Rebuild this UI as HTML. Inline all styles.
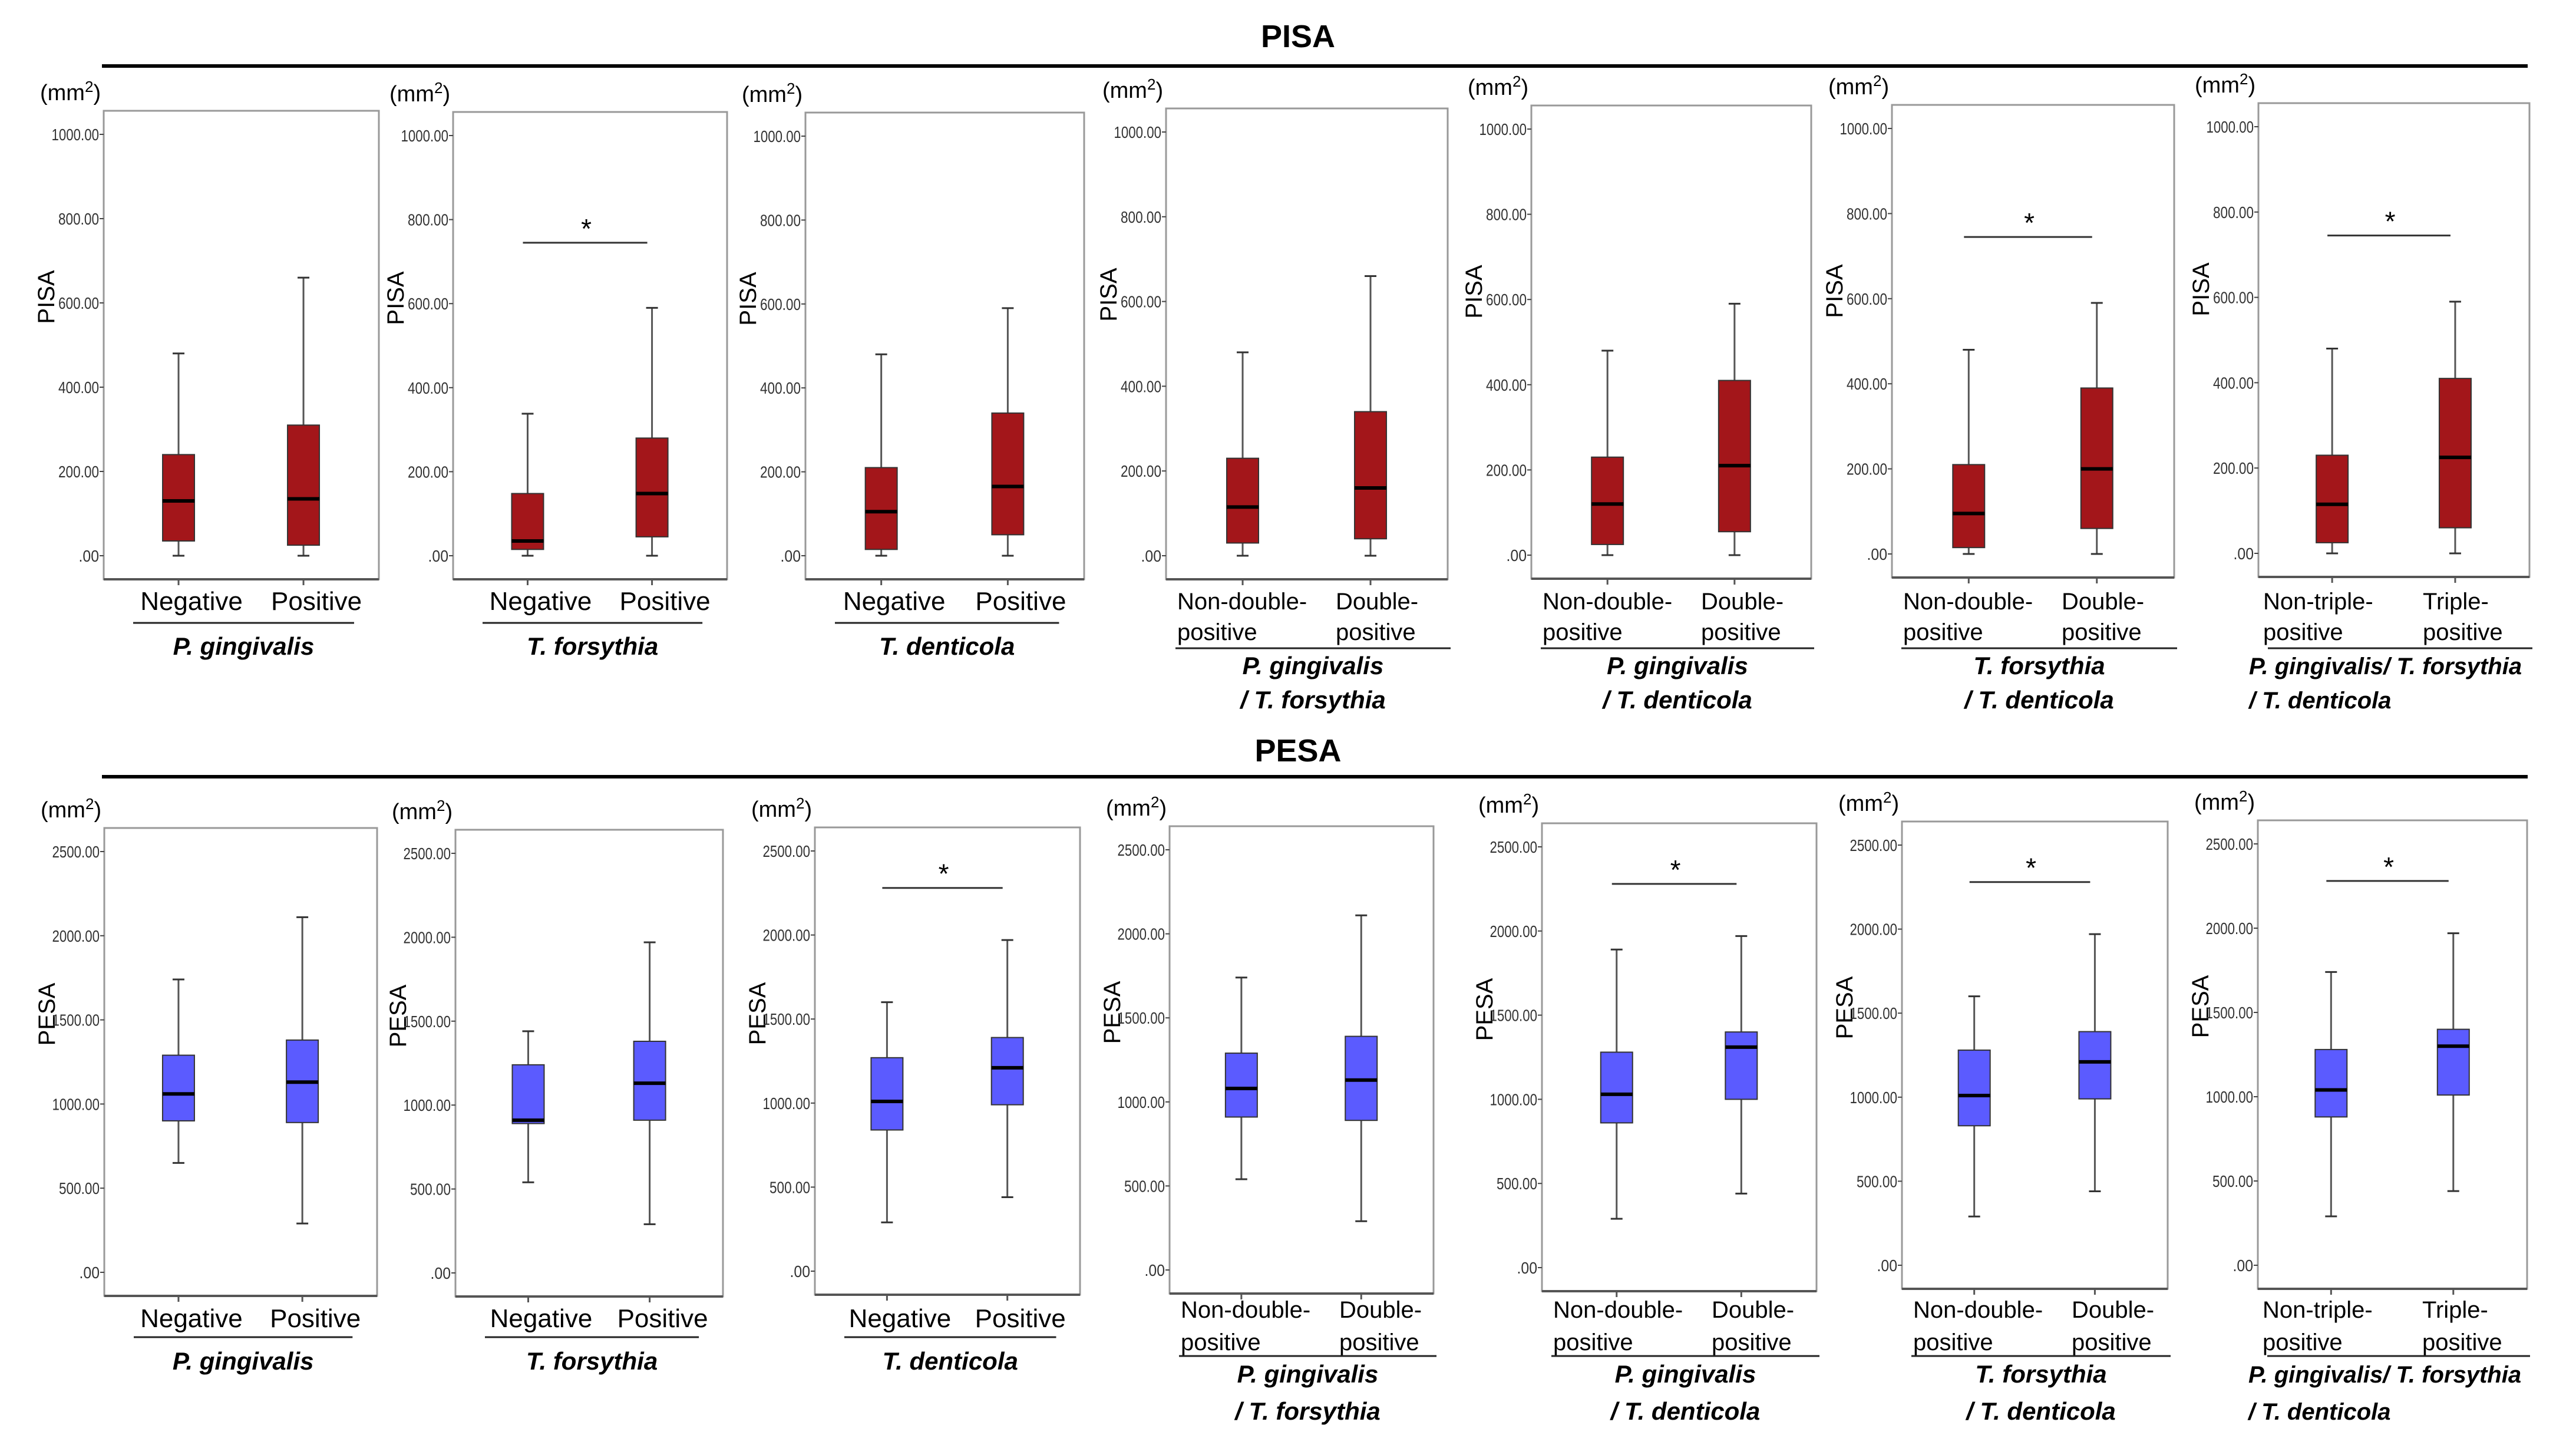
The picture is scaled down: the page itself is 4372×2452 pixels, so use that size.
<!DOCTYPE html>
<html><head><meta charset="utf-8"><style>
html,body{margin:0;padding:0;background:#fff}
svg{display:block}
text{font-family:"Liberation Sans",sans-serif}
</style></head><body>
<svg id="fig" width="4372" height="2452" viewBox="0 0 4372 2452" xmlns="http://www.w3.org/2000/svg">
<text x="2203" y="80" font-size="54" font-weight="bold" text-anchor="middle">PISA</text>
<line x1="173" y1="112" x2="4290" y2="112" stroke="#000" stroke-width="6"/>
<text x="2203" y="1292" font-size="54" font-weight="bold" text-anchor="middle">PESA</text>
<line x1="173" y1="1318" x2="4290" y2="1318" stroke="#000" stroke-width="6"/>
</svg>
<script>
// PISA data: [min, q1, median, q3, max] for each group
const pisaCat1 = [[0,35,130,240,480],[0,15,35,148,338],[0,15,105,210,480],[0,30,115,230,480],[0,25,120,230,480],[0,15,95,210,480],[0,25,115,230,480]];
const pisaCat2 = [[0,25,135,310,660],[0,45,148,280,590],[0,50,165,340,590],[0,40,160,340,660],[0,55,210,410,590],[0,60,200,390,590],[0,60,225,410,590]];
const pisaSig = [false,true,false,false,false,true,true];
const pisaTicks = [0,200,400,600,800,1000];
const pisaTickLabels = [".00","200.00","400.00","600.00","800.00","1000.00"];
// PESA data
const pesaCat1 = [[650,900,1060,1290,1740],[540,890,910,1240,1440],[290,840,1010,1270,1600],[540,910,1080,1290,1740],[290,860,1030,1280,1890],[290,830,1010,1280,1600],[290,880,1040,1280,1740]];
const pesaCat2 = [[290,890,1130,1380,2110],[290,910,1130,1380,1970],[440,990,1210,1390,1970],[290,890,1130,1390,2110],[440,1000,1310,1400,1970],[440,990,1210,1390,1970],[440,1010,1300,1400,1970]];
const pesaSig = [false,false,true,false,true,true,true];
const pesaTicks = [0,500,1000,1500,2000,2500];
const pesaTickLabels = [".00","500.00","1000.00","1500.00","2000.00","2500.00"];
const catLabels1 = [["Negative"],["Negative"],["Negative"],["Non-double-","positive"],["Non-double-","positive"],["Non-double-","positive"],["Non-triple-","positive"]];
const catLabels2 = [["Positive"],["Positive"],["Positive"],["Double-","positive"],["Double-","positive"],["Double-","positive"],["Triple-","positive"]];
const species = [["P. gingivalis"],["T. forsythia"],["T. denticola"],["P. gingivalis","/ T. forsythia"],["P. gingivalis","/ T. denticola"],["T. forsythia","/ T. denticola"],["P. gingivalis/ T. forsythia","/ T. denticola"]];

const NS="http://www.w3.org/2000/svg";
const svg=document.getElementById('fig');
function mk(tag,attrs,parent){const e=document.createElementNS(NS,tag);for(const k in attrs)e.setAttribute(k,attrs[k]);(parent||svg).appendChild(e);return e;}

const rows=[
 {name:'pisa',lefts:[176,769,1367,1979,2599,3211,3833],rights:[643,1234,1840,2457,3074,3690,4293],tops:[188,190,191,184,179,178,175],bottoms:[983,983,983,983,982,980,979],
  c1:pisaCat1,c2:pisaCat2,sig:pisaSig,ticks:pisaTicks,tl:pisaTickLabels,max:1000,sigVal:745,fill:'#a3161a',ylab:'PISA',
  cy1:1020,ul1:1057,sp1:1097,cy2:[1020,1072],ul2:1100,sp2:[1130,1188]},
 {name:'pesa',lefts:[177,773,1383,1985,2617,3228,3832],rights:[640,1227,1833,2433,3083,3679,4289],tops:[1405,1408,1404,1402,1397,1394,1392],bottoms:[2199,2200,2197,2195,2191,2187,2187],
  c1:pesaCat1,c2:pesaCat2,sig:pesaSig,ticks:pesaTicks,tl:pesaTickLabels,max:2500,sigVal:2280,fill:'#5b5bff',ylab:'PESA',
  cy1:2237,ul1:2269,sp1:2310,cy2:[2222,2277],ul2:2301,sp2:[2332,2395]}
];

rows.forEach(r=>{
 for(let p=0;p<7;p++){
  const g=mk('g',{});
  
  
  const L=r.lefts[p],R=r.rights[p],T=r.tops[p],B=r.bottoms[p],W=R-L;
  const y0=B-40,yM=T+40;
  const yS=v=>y0-(v/r.max)*(y0-yM);
  const frame=mk('rect',{x:L,y:T,width:W,height:B-T,fill:'#fff',stroke:'#999','stroke-width':3},g);
  
  
  mk('line',{x1:L,y1:B,x2:R,y2:B,stroke:'#555','stroke-width':4},g);
  const mm=mk('text',{x:L-108,y:T-18,'font-size':38},g);
  mm.innerHTML='(mm<tspan font-size="26" dy="-14">2</tspan><tspan dy="14">)</tspan>';
  
  
  const yl=mk('text',{x:0,y:0,'font-size':40,'text-anchor':'middle',transform:`translate(${L-84},${T+316}) rotate(-90)`},g);
  yl.textContent=r.ylab;
  
  
  r.ticks.forEach((t,i)=>{
   const y=yS(t);
   mk('line',{x1:L-7,y1:y,x2:L,y2:y,stroke:'#444','stroke-width':2},g);
   const s=r.tl[i];
   const tx=mk('text',{x:L-8,y:y+10,'font-size':28,'text-anchor':'end',fill:'#333',textLength:s.length*11.5,lengthAdjust:'spacingAndGlyphs'},g);
   tx.textContent=s;
   
   
  });
  const cx=[L+W*0.272,L+W*0.726];
  [r.c1[p],r.c2[p]].forEach((d,k)=>{
   const x=cx[k],bw=54;
   mk('line',{x1:x,y1:B,x2:x,y2:B+10,stroke:'#555','stroke-width':3},g);
   mk('line',{x1:x,y1:yS(d[0]),x2:x,y2:yS(d[4]),stroke:'#555','stroke-width':3},g);
   mk('line',{x1:x-10,y1:yS(d[0]),x2:x+10,y2:yS(d[0]),stroke:'#333','stroke-width':3},g);
   mk('line',{x1:x-10,y1:yS(d[4]),x2:x+10,y2:yS(d[4]),stroke:'#333','stroke-width':3},g);
   const bx=mk('rect',{x:x-bw/2,y:yS(d[3]),width:bw,height:yS(d[1])-yS(d[3]),fill:r.fill,stroke:'#333','stroke-width':2},g);
   
   
   const md=mk('line',{x1:x-bw/2,y1:yS(d[2]),x2:x+bw/2,y2:yS(d[2]),stroke:'#000','stroke-width':6},g);
   
   
  });
  if(r.sig[p]){
   const sy=yS(r.sigVal);
   const sl=mk('line',{x1:cx[0]-8,y1:sy,x2:cx[1]-8,y2:sy,stroke:'#333','stroke-width':3},g);
   
   
   const st=mk('text',{x:(cx[0]+cx[1])/2-6,y:sy-8,'font-size':46,'text-anchor':'middle'},g);
   st.textContent='*';
   
   
  }
  const two=catLabels1[p].length>1;
  [catLabels1[p],catLabels2[p]].forEach((lines,k)=>{
   lines.forEach((s,j)=>{
    let t;
    if(two){t=mk('text',{x:L+(k==0?(p==6?8:19):(p==6?279:288)),y:r.cy2[j]+14,'font-size':40},g);}
    else{t=mk('text',{x:cx[k]+22,y:r.cy1+15,'font-size':44,'text-anchor':'middle'},g);}
    t.textContent=s;
    
    
   });
  });
  const ul=two?r.ul2:r.ul1;
  const ux1=two?L+16:L+50, ux2=two?R+5:L+W*0.91;
  mk('line',{x1:ux1,y1:ul,x2:ux2,y2:ul,stroke:'#222','stroke-width':3},g);
  species[p].forEach((s,j)=>{
   let t;
   if(p==6){t=mk('text',{x:L-16,y:r.sp2[j]+14,'font-size':40,'font-weight':'bold','font-style':'italic'},g);}
   else{const y=two?r.sp2[j]:r.sp1;t=mk('text',{x:(ux1+ux2)/2,y:y+14,'font-size':42,'font-weight':'bold','font-style':'italic','text-anchor':'middle'},g);}
   t.textContent=s;
   
   
  });
 }
});
</script>
</body></html>
